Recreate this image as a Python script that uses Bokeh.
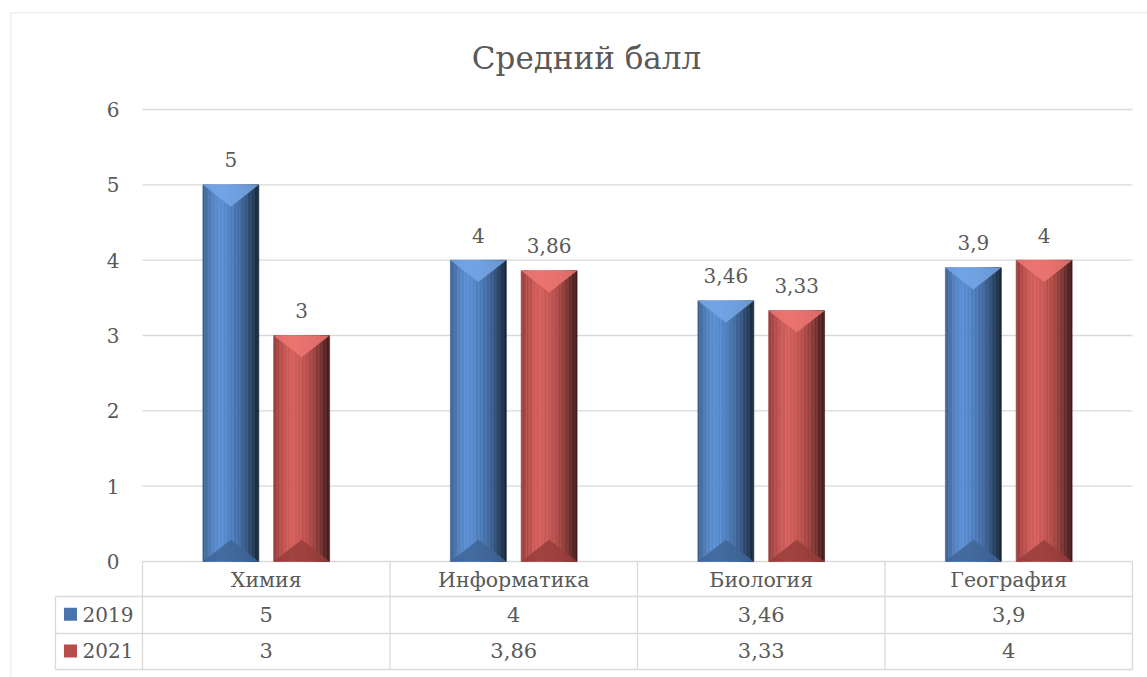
from bokeh.plotting import figure
from bokeh.models import Range1d, LinearAxis, FixedTicker, Label, Span
from bokeh.embed import file_html
from bokeh.resources import INLINE
from bokeh.core.properties import value

# ---- data ----
categories = ["Химия", "Информатика", "Биология", "География"]
series_names = ["2019", "2021"]
values_2019 = [5, 4, 3.46, 3.9]
values_2021 = [3, 3.86, 3.33, 4]
y_ticks = [0, 1, 2, 3, 4, 5, 6]
title_text = "Средний балл"

FONT = "DejaVu Serif"
TXT = "#595959"
GRID = "#d9d9d9"

blue_keys = ["#3d6193", "#4c78b3", "#5789cc", "#5a8dd2", "#5285c7",
             "#4a78b6", "#416ba2", "#365887", "#26405f", "#18273d"]
red_keys = ["#9a3e3c", "#b34b48", "#ca5855", "#d45e5b", "#cc5956",
            "#bf524f", "#ac4845", "#903c3a", "#6a2c2b", "#431b1a"]
tri_top = ["#76a7e8", "#ee7773"]
tri_bot = ["#3f6597", "#983d3b"]
legend_col = ["#4a74ad", "#b84c49"]


def fmt(v):
    return ("%g" % v).replace(".", ",")


def interp(keys, n):
    rgb = [tuple(int(k[j:j + 2], 16) for j in (1, 3, 5)) for k in keys]
    out = []
    for i in range(n):
        t = i / (n - 1) * (len(rgb) - 1)
        a = int(t)
        b = min(a + 1, len(rgb) - 1)
        f = t - a
        c = tuple(round(rgb[a][j] * (1 - f) + rgb[b][j] * f) for j in range(3))
        out.append("#%02x%02x%02x" % c)
    return out


NSTRIP = 40
blue_grad = interp(blue_keys, NSTRIP)
red_grad = interp(red_keys, NSTRIP)

X0, X1, Y0, Y1 = -0.5333, 4.0606, -1.5399, 7.288
p = figure(width=1147, height=677, output_backend="svg", toolbar_location=None,
           x_range=Range1d(X0, X1), y_range=Range1d(Y0, Y1),
           min_border_left=10, min_border_right=0, min_border_top=12, min_border_bottom=0,
           x_axis_location=None, y_axis_location=None)
p.xgrid.visible = False
p.ygrid.visible = False
p.outline_line_color = None
p.background_fill_color = "white"
p.border_fill_color = "white"
# chart-area border (top and left; right/bottom are cropped in the reference)
p.add_layout(Span(location=X0, dimension="height", line_color=GRID, line_width=1.5))
p.add_layout(Span(location=Y1, dimension="width", line_color=GRID, line_width=1.5))

n_cat = len(categories)
xs_cat = [i + 0.5 for i in range(n_cat)]

# gridlines from tick values
p.segment(x0=[0] * len(y_ticks), x1=[n_cat] * len(y_ticks), y0=y_ticks, y1=y_ticks,
          line_color=GRID, line_width=1.3)

# ---- bars with bevel ----
offsets = [-0.143, 0.143]
bw = 0.226
depth = 0.29
for s, (vals, grad) in enumerate([(values_2019, blue_grad), (values_2021, red_grad)]):
    lefts, rights, tops, bots, cols = [], [], [], [], []
    txs, tys, bxs, bys = [], [], [], []
    for i, v in enumerate(vals):
        c = xs_cat[i] + offsets[s]
        L = c - bw / 2
        for k in range(NSTRIP):
            lefts.append(L + k * bw / NSTRIP)
            rights.append(L + (k + 1) * bw / NSTRIP)
            tops.append(v)
            bots.append(0)
            cols.append(grad[k])
        txs.append([L, L + bw, c])
        tys.append([v, v, v - depth])
        bxs.append([L, L + bw, c])
        bys.append([0, 0, depth])
    p.quad(left=lefts, right=rights, top=tops, bottom=bots, fill_color=cols,
           line_color=cols, line_width=0.6)
    p.patches(xs=txs, ys=tys, fill_color=tri_top[s], fill_alpha=0.85, line_color=None)
    p.patches(xs=bxs, ys=bys, fill_color=tri_bot[s], fill_alpha=0.85, line_color=None)
    # data labels
    p.text(x=[xs_cat[i] + offsets[s] for i in range(n_cat)], y=vals,
           text=[fmt(v) for v in vals], text_align="center", text_baseline="alphabetic",
           y_offset=-25, text_font=value(FONT), text_font_size="20px", text_color=TXT)

# ---- axes ----
yax = LinearAxis(ticker=FixedTicker(ticks=y_ticks), fixed_location=0)
yax.axis_line_color = None
yax.major_tick_line_color = None
yax.minor_tick_line_color = None
yax.major_label_standoff = 17
yax.major_label_text_font = FONT
yax.major_label_text_font_size = "20px"
yax.major_label_text_color = TXT
p.add_layout(yax, "left")

xax = LinearAxis(ticker=FixedTicker(ticks=xs_cat), fixed_location=0)
xax.major_label_overrides = {x: c for x, c in zip(xs_cat, categories)}
xax.axis_line_color = None
xax.major_tick_line_color = None
xax.minor_tick_line_color = None
xax.major_label_standoff = 0
xax.major_label_text_font = FONT
xax.major_label_text_font_size = "20.5px"
xax.major_label_text_color = TXT
p.add_layout(xax, "below")

# ---- data table ----
tbl_left = -0.3515
row_lines = [-0.4646, -0.9558, -1.4337]
row_centers = [-0.700, -1.1867]
p.segment(x0=[tbl_left] * 3, x1=[n_cat] * 3, y0=row_lines, y1=row_lines,
          line_color=GRID, line_width=1.3)
p.segment(x0=[tbl_left], x1=[tbl_left], y0=[row_lines[0]], y1=[row_lines[-1]],
          line_color=GRID, line_width=1.3)
p.segment(x0=list(range(n_cat + 1)), x1=list(range(n_cat + 1)),
          y0=[0] * (n_cat + 1), y1=[row_lines[-1]] * (n_cat + 1),
          line_color=GRID, line_width=1.3)

for s, vals in enumerate([values_2019, values_2021]):
    p.text(x=xs_cat, y=[row_centers[s]] * n_cat, text=[fmt(v) for v in vals],
           text_align="center", text_baseline="middle", text_font=value(FONT),
           text_font_size="21px", text_color=TXT)
p.scatter(x=[-0.291] * 2, y=row_centers, marker="square", size=13,
          fill_color=legend_col, line_color=None)
p.text(x=[-0.242] * 2, y=row_centers, text=series_names, text_align="left",
       text_baseline="middle", text_font=value(FONT), text_font_size="20px",
       text_color=TXT)

# ---- title ----
p.add_layout(Label(x=1.794, y=6.69, text=title_text, text_align="center",
                   text_baseline="middle", text_font=FONT, text_font_size="31px",
                   text_color=TXT))

open("out.html", "w").write(file_html(p, INLINE))
